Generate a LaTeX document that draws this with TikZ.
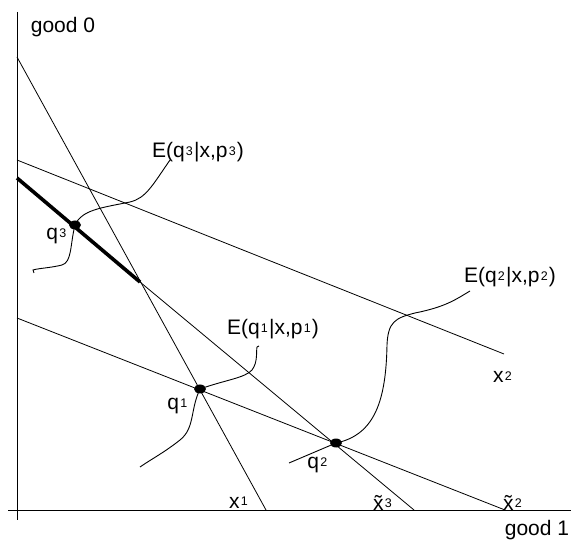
\documentclass[tikz,border=0pt]{standalone}
\usepackage{fontspec}
\setmainfont{Liberation Sans}
\newcommand\smd[1]{\kern1.2pt\raisebox{0.1em}{\fontsize{12.5}{12.5}\selectfont #1}\kern1.2pt}
\tikzset{
  thin line/.style={line width=0.8pt},
  thick seg/.style={line width=3.6pt},
  curve/.style={line width=0.9pt},
  lab/.style={font=\fontsize{21}{22}\selectfont, inner sep=0pt},
  dot/.style={fill=black}
}
\begin{document}
\begin{tikzpicture}[x=1pt,y=-1pt]
\useasboundingbox (0,0) rectangle (571,548);
% axes
\coordinate (ytop) at (17,12);
\coordinate (ybot) at (17,520);
\coordinate (xl) at (8,510);
\coordinate (xr) at (571,510);
\draw[thin line] (ytop) -- (ybot);
\draw[thin line] (xl) -- (xr);
% budget lines
\coordinate (a1) at (17,57);
\coordinate (b1) at (266,510);
\coordinate (a2) at (17,160);
\coordinate (b2) at (504,354);
\coordinate (a3) at (17,178);
\coordinate (k3) at (140,282);
\coordinate (b3) at (414,510);
\coordinate (a4) at (17,318);
\coordinate (b4) at (505,510);
\draw[thin line] (a1) -- (b1);
\draw[thin line] (a2) -- (b2);
\draw[thick seg] (a3) -- (k3);
\draw[thin line] (k3) -- (b3);
\draw[thin line] (a4) -- (b4);
% points
\coordinate (q3dot) at (75,225);
\coordinate (q1dot) at (200,389);
\coordinate (q2dot) at (336,443);
\fill[dot] (q3dot) ellipse [x radius=6pt, y radius=4.5pt];
\fill[dot] (q1dot) ellipse [x radius=6pt, y radius=4.5pt];
\fill[dot] (q2dot) ellipse [x radius=6pt, y radius=4.5pt];
% labels
\node[lab] (g0) at (63,27) {good 0};
\node[lab] (g1) at (537,530) {good 1};
\node[lab] (E3) at (198,152) {E(q\smd{3}|x,p\smd{3})};
\node[lab] (E1) at (273,329) {E(q\smd{1}|x,p\smd{1})};
\node[lab] (E2) at (510,277) {E(q\smd{2}|x,p\smd{2})};
\node[lab] (lq3) at (57,236) {q\smd{3}};
\node[lab] (lq1) at (178,406) {q\smd{1}};
\node[lab] (lq2) at (318,465) {q\smd{2}};
\node[lab,anchor=base] (lx2) at (503,383) {x\smd{2}};
\node[lab,anchor=base] (lx1) at (239,508) {x\smd{1}};
\node[lab,anchor=base] (lx3t) at (383,510) {\~{x}\smd{3}};
\node[lab,anchor=base] (lx2t) at (513,510) {\~{x}\smd{2}};
% curves
\coordinate (c3s) at (170,160);
\coordinate (c3e) at (33,270);
\coordinate (c1s) at (257,347);
\coordinate (c1e) at (140,467);
\coordinate (c2s) at (470,291);
\coordinate (c2e) at (289,463);
\draw[curve] (c3s) .. controls (152,186) and (146,198) .. (130,202)
   .. controls (100,208) and (82,210) .. (q3dot)
   .. controls (70,245) and (72,262) .. (62,265)
   .. controls (50,268) and (40,268) .. (c3e) -- ++(1,3);
\draw[curve] (c1s) -- ++(2,-1);
\draw[curve] (c1s) .. controls (256,352) and (258,362) .. (252,370)
   .. controls (245,378) and (225,380) .. (q1dot)
   .. controls (190,410) and (195,428) .. (180,440)
   .. controls (165,452) and (150,460) .. (c1e);
\draw[curve] (c2s) .. controls (455,300) and (445,307) .. (415,313)
   .. controls (395,318) and (388,322) .. (387,345)
   .. controls (386,400) and (375,435) .. (q2dot) -- (c2e);
\end{tikzpicture}
\end{document}
